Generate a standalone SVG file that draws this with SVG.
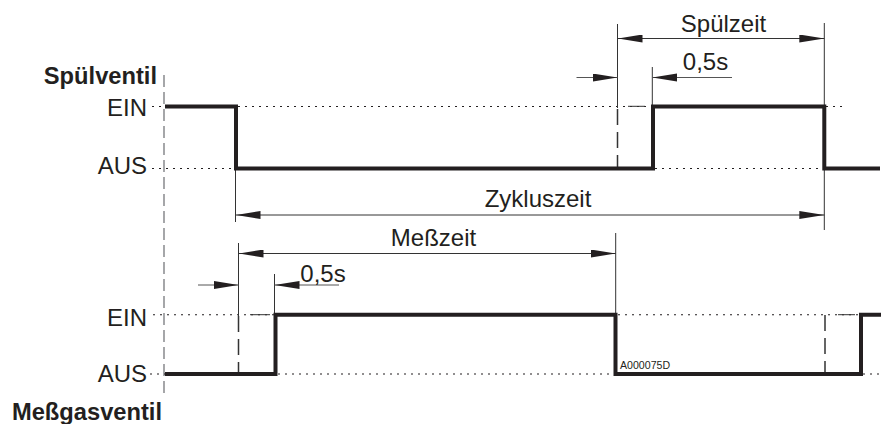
<svg xmlns="http://www.w3.org/2000/svg" width="881" height="424" viewBox="0 0 881 424">
<style>
text{font-family:"Liberation Sans",Arial,sans-serif;font-size:24px;fill:#231f20}
.b{font-weight:bold;font-size:23.7px}
.e{text-anchor:end}
.m{text-anchor:middle}
.sig{fill:none;stroke:#231f20;stroke-width:4;stroke-linejoin:miter}
.dot{fill:none;stroke:#231f20;stroke-width:1.1;stroke-dasharray:2 5}
.axis{fill:none;stroke:#808285;stroke-width:1.4;stroke-dasharray:12 5}
.dash{fill:none;stroke:#333;stroke-width:1.5;stroke-dasharray:16 7}
.ext{fill:none;stroke:#333;stroke-width:1}
.dim{fill:none;stroke:#333;stroke-width:1;marker-start:url(#ra);marker-end:url(#fa)}
.arr{fill:none;stroke:#555;stroke-width:1;marker-end:url(#fa)}
</style>
<defs>
<marker id="fa" markerUnits="userSpaceOnUse" markerWidth="27" markerHeight="10" refX="25" refY="4" orient="auto"><path d="M0 0L25 4L0 8Z" fill="#231f20"/></marker>
<marker id="ra" markerUnits="userSpaceOnUse" markerWidth="27" markerHeight="10" refX="0" refY="4" orient="auto"><path d="M25 0L0 4L25 8Z" fill="#231f20"/></marker>
</defs>
<g id="connectors">
<path class="axis" d="M164 75V398"/>
<path class="dot" d="M152 106.5H165M238 106.5H845M152 168.5H236M655 168.5H824M153 314.7H275M618 314.7H860M150 374H165M278 374H615M863 374H881"/>
<path class="dash" d="M617.5 109V168"/>
<path class="dash" d="M238.5 316V373"/>
<path class="dash" d="M825 315V373"/>
<path class="ext" d="M628 106.3H645M250 314.7H270M838 314.7H855"/>
<path class="ext" d="M617.5 24V108M824.3 23V106M652.3 67V106M824.3 170V230M235.5 170V222M238.5 243V316M615.7 233V314M274.5 274V314"/>
<path class="dim" d="M617.5 38.5H824.3"/>
<path class="dim" d="M235.5 215H824.3"/>
<path class="dim" d="M238.5 253.5H615.7"/>
<path class="arr" d="M576.5 77.5H617.5"/>
<path class="arr" d="M732 77.5H652.3"/>
<path class="arr" d="M198 285H238.5"/>
<path class="arr" d="M339 285H274.5"/>
</g>
<g id="signal-spuelventil"><path class="sig" d="M165 106.5H236V168.5H653V106.5H824.3V168.5H880"/></g>
<g id="signal-messgasventil"><path class="sig" d="M165 374H275.5V314.7H615.5V374H861V314.7H881"/></g>
<g id="label-spuelventil"><text class="b e" x="157" y="83.5">Spülventil</text></g>
<g id="label-ein1"><text class="e" x="147" y="116">EIN</text></g>
<g id="label-aus1"><text class="e" x="147" y="174">AUS</text></g>
<g id="label-spuelzeit"><text class="m" x="723.5" y="32">Spülzeit</text></g>
<g id="label-05s1"><text class="m" x="705.5" y="70">0,5s</text></g>
<g id="label-zykluszeit"><text class="m" x="538" y="207">Zykluszeit</text></g>
<g id="label-messzeit"><text class="m" x="433.5" y="246">Meßzeit</text></g>
<g id="label-05s2"><text class="m" x="323" y="282">0,5s</text></g>
<g id="label-ein2"><text class="e" x="147" y="325.5">EIN</text></g>
<g id="label-aus2"><text class="e" x="147" y="381.5">AUS</text></g>
<g id="label-messgasventil"><text class="b e" x="162" y="419.5">Meßgasventil</text></g>
<g id="label-code"><text x="620" y="369" style="font-size:10.6px">A000075D</text></g>
</svg>
